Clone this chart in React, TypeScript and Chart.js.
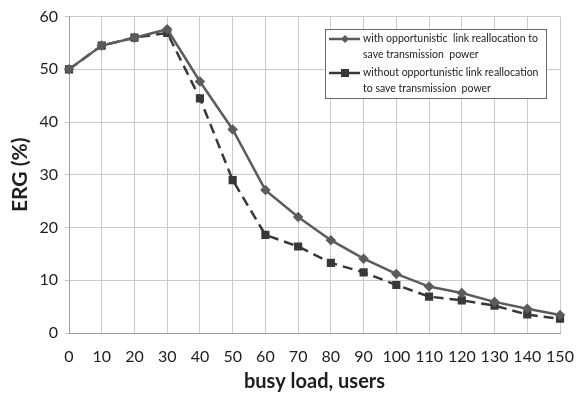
import React, { useEffect, useRef } from "react";
import { Chart, registerables } from "chart.js";

Chart.register(...registerables);

const busyLoad = ["0", "10", "20", "30", "40", "50", "60", "70", "80", "90", "100", "110", "120", "130", "140", "150"];

const withRealloc = [50, 54.5, 56, 57.6, 47.7, 38.6, 27.1, 22, 17.6, 14.1, 11.2, 8.8, 7.6, 5.9, 4.6, 3.4];
const withoutRealloc = [50, 54.5, 56, 56.9, 44.5, 29, 18.6, 16.4, 13.3, 11.5, 9.1, 6.9, 6.2, 5.2, 3.5, 2.7];

const legendLines = [
  ["with opportunistic  link reallocation to", "save transmission  power"],
  ["without opportunistic link reallocation", "to save transmission  power"],
];

const SOLID_COLOR = "#5c5c5c";
const DASH_COLOR = "#383838";
const FONT = "Lato, 'Open Sans', sans-serif";

// Boxed legend drawn inside the plot area, with two-line labels.
const boxLegend = {
  id: "boxLegend",
  afterDraw(chart: any) {
    const ctx = chart.ctx as CanvasRenderingContext2D;
    const x0 = 325, y0 = 29, w = 221, h = 69;
    ctx.save();
    ctx.fillStyle = "#ffffff";
    ctx.fillRect(x0, y0, w, h);
    ctx.strokeStyle = "#6a6a6a";
    ctx.lineWidth = 1;
    ctx.strokeRect(x0 + 0.5, y0 + 0.5, w, h);

    const rows = [y0 + 10, y0 + 44];
    chart.data.datasets.forEach((ds: any, i: number) => {
      const yy = rows[i];
      ctx.strokeStyle = ds.borderColor;
      ctx.lineWidth = 2.5;
      ctx.setLineDash([]);
      ctx.beginPath();
      ctx.moveTo(x0 + 4, yy);
      ctx.lineTo(x0 + 35, yy);
      ctx.stroke();
      ctx.fillStyle = ds.pointBackgroundColor;
      const mx = x0 + 20;
      if (ds.pointStyle === "rect") {
        ctx.fillRect(mx - 4, yy - 4, 8, 8);
      } else {
        ctx.beginPath();
        ctx.moveTo(mx, yy - 4);
        ctx.lineTo(mx + 4, yy);
        ctx.lineTo(mx, yy + 4);
        ctx.lineTo(mx - 4, yy);
        ctx.closePath();
        ctx.fill();
      }
      ctx.fillStyle = "#222222";
      ctx.font = `10.5px ${FONT}`;
      ctx.textBaseline = "middle";
      ctx.textAlign = "left";
      legendLines[i].forEach((line, j) => {
        ctx.fillText(line, x0 + 38, yy + j * 15.5);
      });
    });
    ctx.restore();
  },
};

export default function App() {
  const canvasRef = useRef<HTMLCanvasElement | null>(null);

  useEffect(() => {
    if (!canvasRef.current) return;
    const chart = new Chart(canvasRef.current, {
      type: "line",
      data: {
        labels: busyLoad,
        datasets: [
          {
            label: legendLines[0].join(" "),
            data: withRealloc,
            borderColor: SOLID_COLOR,
            backgroundColor: SOLID_COLOR,
            pointBackgroundColor: SOLID_COLOR,
            pointBorderColor: SOLID_COLOR,
            borderWidth: 2.5,
            pointStyle: "rectRot",
            pointRadius: 3.5,
            tension: 0,
          },
          {
            label: legendLines[1].join(" "),
            data: withoutRealloc,
            borderColor: DASH_COLOR,
            backgroundColor: DASH_COLOR,
            pointBackgroundColor: DASH_COLOR,
            pointBorderColor: DASH_COLOR,
            borderWidth: 2.5,
            borderDash: [10, 6],
            pointStyle: "rect",
            pointRadius: 4,
            tension: 0,
          },
        ],
      },
      options: {
        responsive: false,
        animation: false,
        layout: { padding: { top: 12, right: 17, bottom: 0, left: 0 } },
        plugins: {
          legend: { display: false },
          tooltip: { enabled: false },
        },
        scales: {
          x: {
            type: "category",
            offset: false,
            grid: { color: "#c9c9c9", lineWidth: 1, drawTicks: false },
            border: { color: "#a0a0a0" },
            ticks: {
              color: "#1e1e1e",
              font: { family: FONT, size: 16 },
              padding: 14,
              maxRotation: 0,
              autoSkip: false,
            },
            title: {
              display: true,
              text: "busy load, users",
              color: "#1e1e1e",
              font: { family: FONT, size: 20, weight: "bold" },
              padding: { top: 0, bottom: 3 },
            },
            afterFit(scale: any) {
              scale.height = 64;
              scale.paddingLeft = 0;
              scale.paddingRight = 0;
            },
          },
          y: {
            min: 0,
            max: 60,
            ticks: {
              stepSize: 10,
              color: "#1e1e1e",
              font: { family: FONT, size: 16 },
              padding: 7,
            },
            grid: { color: "#c9c9c9", lineWidth: 1, tickLength: 4 },
            border: { color: "#a0a0a0" },
            title: {
              display: true,
              text: "ERG (%)",
              color: "#1e1e1e",
              font: { family: FONT, size: 21, weight: "bold" },
              padding: { top: 8, bottom: 0 },
            },
            afterFit(scale: any) {
              scale.width = 69;
            },
          },
        },
      },
      plugins: [boxLegend],
    });
    return () => chart.destroy();
  }, []);

  return (
    <div style={{ position: "absolute", left: 0, top: 0, width: 577, height: 397, background: "#ffffff" }}>
      <canvas ref={canvasRef} width={577} height={397} />
    </div>
  );
}
